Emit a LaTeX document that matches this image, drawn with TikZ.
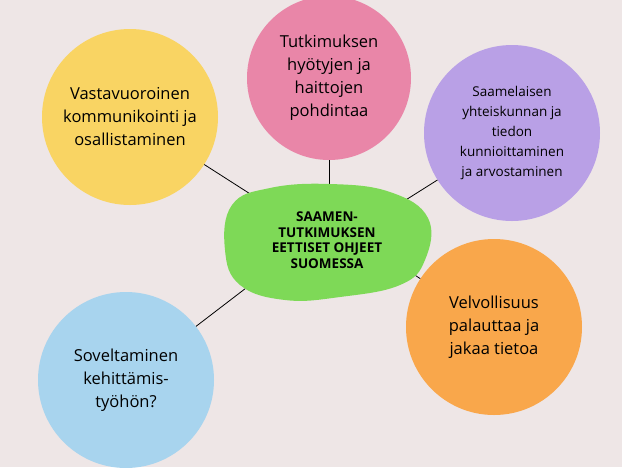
\documentclass[tikz,border=0pt]{standalone}
\usepackage{fontspec}
\setmainfont{Open Sans}
\usetikzlibrary{shapes.geometric}
\definecolor{bg}{HTML}{EEE6E6}
\definecolor{cyel}{HTML}{F9D463}
\definecolor{cpink}{HTML}{E986A8}
\definecolor{cpurp}{HTML}{B9A0E6}
\definecolor{cgreen}{HTML}{7ED957}
\definecolor{corange}{HTML}{F9A74B}
\definecolor{cblue}{HTML}{A8D4EE}
\tikzset{
  bub/.style={circle,minimum size=#1,inner sep=0pt,align=center,font=\fontsize{16.5}{23}\selectfont},
  link/.style={draw=black,line width=0.8pt}
}
\begin{document}
\begin{tikzpicture}[x=1pt,y=-1pt]
\fill[bg] (0,0) rectangle (622,467);
\useasboundingbox (0,0) rectangle (622,467);
\node[bub=176pt,fill=cyel] (y) at (130,117) {Vastavuoroinen\\kommunikointi ja\\osallistaminen};
\node[bub=164pt,fill=cpink] (p) at (329,78) {Tutkimuksen\\hyötyjen ja\\haittojen\\pohdintaa};
\node[bub=176pt,fill=cpurp,font=\fontsize{13.5}{20}\selectfont] (u) at (512,133) {Saamelaisen\\yhteiskunnan ja\\tiedon\\kunnioittaminen\\ja arvostaminen};
\node[bub=176pt,fill=corange] (o) at (494,327) {Velvollisuus\\palauttaa ja\\jakaa tietoa};
\node[bub=176pt,fill=cblue] (b) at (126,380) {Soveltaminen\\kehittämis-\\työhön?};
\draw[link] (y) -- (255,197) coordinate (gy);
\draw[link] (p) -- (329,186) coordinate (gp);
\draw[link] (u) -- (393,208) coordinate (gu);
\draw[link] (o) -- (401,266) coordinate (go);
\draw[link] (b) -- (250,285) coordinate (gb);
\fill[cgreen] plot[smooth cycle,tension=0.7] coordinates {(232,205) (270,188) (330,184) (390,192) (428,218) (425,260) (400,285) (340,297) (285,300) (240,285) (225,250)};
\node[align=center,font=\bfseries\fontsize{13.5}{15.5}\selectfont] (g) at (327,240) {SAAMEN-\\TUTKIMUKSEN\\EETTISET OHJEET\\SUOMESSA};
\end{tikzpicture}
\end{document}
